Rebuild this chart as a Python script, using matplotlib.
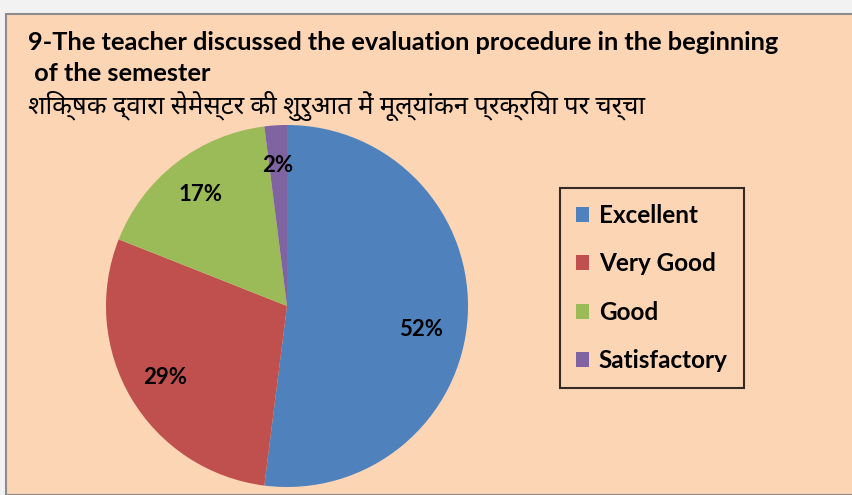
import numpy as np
import matplotlib.pyplot as plt
from matplotlib.patches import Rectangle

labels = ['Excellent', 'Very Good', 'Good', 'Satisfactory']
values = [52, 29, 17, 2]
colors = ['#4F81BD', '#C0504D', '#9BBB59', '#8064A2']

title_en1 = '9-The teacher discussed the evaluation procedure in the beginning'
title_en2 = ' of the semester'
title_hi = 'शिक्षक द्वारा सेमेस्टर की शुरुआत में मूल्यांकन प्रक्रिया पर चर्चा'

fams = ['Lato', 'Noto Sans', 'DejaVu Sans']
plt.rcParams['font.family'] = fams

W, H = 853, 495
fig = plt.figure(figsize=(W / 100, H / 100), dpi=100)
fig.patch.set_facecolor('#F2F2F2')

# peach chart area with grey border
fig.patches.append(Rectangle((6 / W, 0), 1, (H - 14) / H, transform=fig.transFigure,
                             facecolor='#FCD5B5', edgecolor='#8C8C8C', linewidth=1.5,
                             zorder=-5))

fig.text(28 / W, 1 - 43 / H, title_en1, fontsize=18.3, fontweight='bold', va='center')
fig.text(28 / W, 1 - 73 / H, title_en2, fontsize=18.3, fontweight='bold', va='center')
fig.text(28 / W, 1 - 106 / H, title_hi, fontsize=18.5, fontweight='bold', va='center')

ax = fig.add_axes([106 / W, 8 / H, 362 / W, 362 / H])
ax.patch.set_visible(False)
wedges, texts, autotexts = ax.pie(values, colors=colors, startangle=90, counterclock=False,
                                  autopct='%d%%', pctdistance=0.78,
                                  wedgeprops=dict(edgecolor='none'),
                                  textprops=dict(fontsize=16, fontweight='bold', color='black'))
# excel's "best fit" puts the big label a bit lower
a = np.deg2rad(-10)
autotexts[0].set_position((0.75 * np.cos(a), 0.75 * np.sin(a)))
ax.set_aspect('auto')
ax.set_xlim(-1, 1)
ax.set_ylim(-1, 1)

leg = fig.legend(wedges, labels, loc='upper left', bbox_to_anchor=(560 / W, 1 - 188 / H),
                 frameon=True, fancybox=False, edgecolor='black', facecolor='#FCD5B5',
                 prop=dict(size=17.5, weight='bold'), handlelength=0.55, handleheight=0.55,
                 labelspacing=1.05, borderpad=0.65, handletextpad=0.4, borderaxespad=0)
leg.get_frame().set_linewidth(1.5)

fig.savefig('out.png', dpi=100, facecolor=fig.get_facecolor())
